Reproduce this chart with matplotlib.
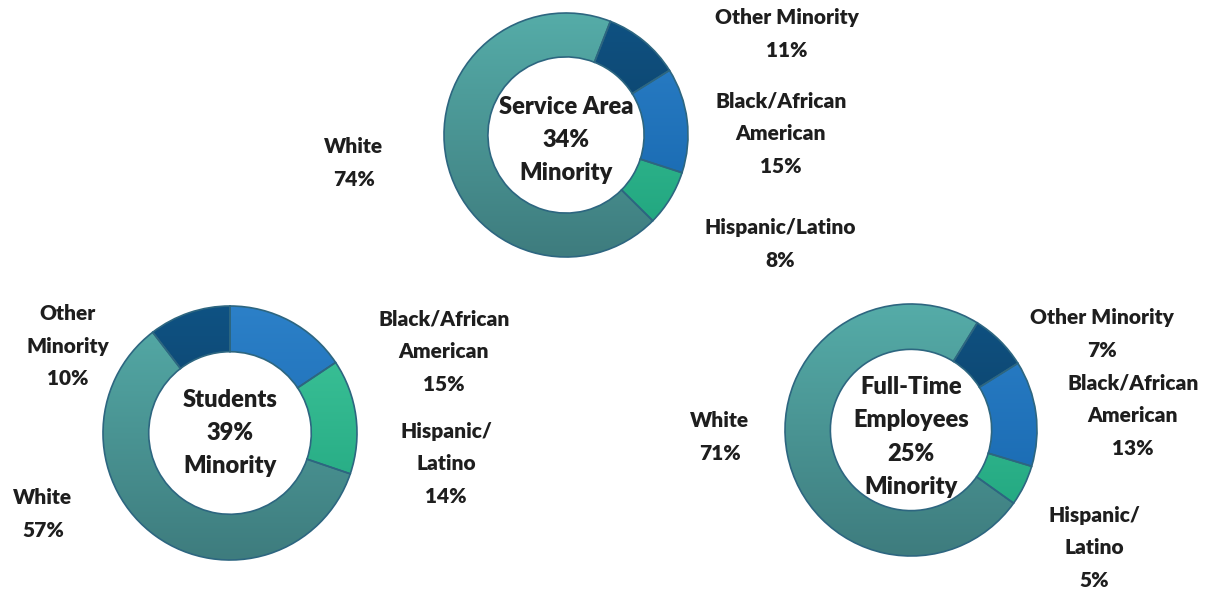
import matplotlib.pyplot as plt
import numpy as np
from matplotlib.colors import LinearSegmentedColormap

plt.rcParams['font.family'] = ['Lato', 'DejaVu Sans']

W, H = 1213, 591

# shares in each ring, order: Black/African American, Hispanic/Latino, White, Other Minority
groups = ["Black/African American", "Hispanic/Latino", "White", "Other Minority"]
service = [15, 8, 74, 11]
students = [15, 14, 57, 10]
employees = [13, 5, 71, 7]

centre_text = ["Service Area\n34%\nMinority", "Students\n39%\nMinority",
               "Full-Time\nEmployees\n25%\nMinority"]

service_labels = ["Black/African\nAmerican\n15%", "Hispanic/Latino\n8%", "White\n74%", "Other Minority\n11%"]
student_labels = ["Black/African\nAmerican\n15%", "Hispanic/\nLatino\n14%", "White\n57%", "Other\nMinority\n10%"]
employee_labels = ["Black/African\nAmerican\n13%", "Hispanic/\nLatino\n5%", "White\n71%", "Other Minority\n7%"]

# top colour, bottom colour for each group
shades = [("#2c80c8", "#1464ab"), ("#3fc69b", "#1ea27c"),
          ("#55aca8", "#3e7c7e"), ("#0f5283", "#0b3858")]

# centre (px), radius, start angle, label positions (px)
rings = [
    (service, (566, 135), 122, 32, centre_text[0], 140, service_labels,
     [(781, 134), (780, 244), (354, 163), (787, 34)]),
    (students, (230, 433), 127, 90, centre_text[1], 433, student_labels,
     [(444, 352), (446, 464), (43, 514), (68, 346)]),
    (employees, (911, 430), 126, 32, centre_text[2], 437, employee_labels,
     [(1133, 416), (1094, 548), (720, 437), (1102, 334)]),
]

fig = plt.figure(figsize=(W / 100, H / 100), dpi=100)
ax = fig.add_axes([0, 0, 1, 1])

for vals, (cx, cy), r, start, ctext, ty, labels, lpos in rings:
    cy = H - cy
    wedges, _ = ax.pie(vals, center=(cx, cy), radius=r, startangle=start,
                       counterclock=False,
                       wedgeprops=dict(width=r * 0.36, facecolor="none",
                                       edgecolor="#2d6680", linewidth=1.2))
    for w, (top, bot) in zip(wedges, shades):
        cmap = LinearSegmentedColormap.from_list("g", [top, bot])
        im = ax.imshow(np.linspace(0, 1, 256).reshape(-1, 1), cmap=cmap,
                       extent=(cx - r, cx + r, cy - r, cy + r), origin="upper",
                       aspect="auto", zorder=0.5)
        im.set_clip_path(w)
        w.set_zorder(1)
    ax.text(cx, H - ty, ctext, ha="center", va="center", fontsize=17,
            fontweight="heavy", color="#1e1e1e", linespacing=1.62)
    for lab, (lx, ly) in zip(labels, lpos):
        ax.text(lx, H - ly, lab, ha="center", va="center", fontsize=15,
                fontweight="heavy", color="#1e1e1e", linespacing=1.86)

ax.set_xlim(0, W)
ax.set_ylim(0, H)
ax.set_aspect("equal")
ax.axis("off")

fig.savefig("out.png", dpi=100)
